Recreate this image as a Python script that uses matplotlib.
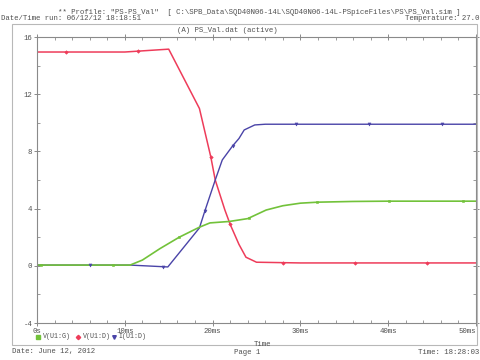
import numpy as np
import matplotlib
matplotlib.use("Agg")
import matplotlib.pyplot as plt
from matplotlib.lines import Line2D
from matplotlib.patches import Rectangle
from matplotlib.ticker import MultipleLocator, FixedLocator

# ---- data (time in ms) ----
t_vd = [0, 10, 15, 18.5, 19.8, 20.3, 21.4, 22.0, 23.0, 23.8, 25, 30, 40, 50]
vd = [14.95, 14.95, 15.15, 11.0, 7.6, 6.0, 3.9, 2.9, 1.5, 0.6, 0.25, 0.2, 0.2, 0.2]

t_id = [0, 10.6, 14.9, 18.5, 19.1, 20.3, 21.1, 22.3, 23.0, 23.6, 24.8, 26, 50]
idd = [0.05, 0.05, -0.08, 2.65, 3.8, 6.0, 7.4, 8.4, 8.9, 9.5, 9.85, 9.9, 9.9]

t_vg = [0, 10.6, 12, 14, 16.2, 18.5, 19.7, 21.9, 24, 26.1, 28, 30, 32, 36, 40, 50]
vg = [0.05, 0.05, 0.4, 1.2, 2.0, 2.7, 3.0, 3.1, 3.3, 3.9, 4.2, 4.38, 4.45, 4.5, 4.52, 4.52]

mk_vd = [3.3, 11.5, 19.8, 22.0, 28.0, 36.2, 44.4]
mk_id = [6.0, 14.3, 19.1, 22.3, 29.5, 37.8, 46.1]
mk_vg = [0.5, 8.7, 16.2, 24.2, 31.9, 40.1, 48.5]

x_ticks = [0, 10, 20, 30, 40, 50]
x_labels = ["0s", "10ms", "20ms", "30ms", "40ms", "50ms"]
y_ticks = [-4, 0, 4, 8, 12, 16]
y_labels = ["-4", "0", "4", "8", "12", "16"]

RED = "#ee3c5a"
BLUE = "#4a44a8"
GREEN = "#72c23a"
TXT = "#505050"
AX = "#8a8a8a"
MONO = "Liberation Mono"
FS = 5.3
FSL = 4.8

W, H = 480, 360
fig = plt.figure(figsize=(4.8, 3.6), dpi=100)
fig.patch.set_facecolor("white")

def fx(px):
    return px / W

def fy(py):
    return 1 - py / H

# outer frame
fig.patches.append(Rectangle((fx(12), fy(345)), fx(477) - fx(12), fy(24) - fy(345),
                             transform=fig.transFigure, fill=False, ec="#b8b8b8", lw=0.8))

ax = fig.add_axes([fx(37), fy(323), fx(476) - fx(37), fy(37) - fy(323)])
ax.set_xlim(0, 50)
ax.set_ylim(-4, 16)

ax.plot(t_vd, vd, color=RED, lw=1.1)
ax.plot(t_id, idd, color=BLUE, lw=1.0)
ax.plot(t_vg, vg, color=GREEN, lw=1.2)

ax.plot(mk_vd, np.interp(mk_vd, t_vd, vd), ls="none", marker="D", ms=1.8, mew=0.4, color=RED)
ax.plot(mk_id, np.interp(mk_id, t_id, idd), ls="none", marker="v", ms=2.2, mew=0.4, color=BLUE)
ax.plot(mk_vg, np.interp(mk_vg, t_vg, vg), ls="none", marker="s", ms=1.8, mew=0.4, color=GREEN)

for s in ax.spines.values():
    s.set_color(AX)
    s.set_linewidth(0.8)

ax.xaxis.set_major_locator(FixedLocator(x_ticks))
ax.xaxis.set_minor_locator(MultipleLocator(2))
ax.yaxis.set_major_locator(FixedLocator(y_ticks))
ax.yaxis.set_minor_locator(MultipleLocator(2))
ax.set_xticklabels(x_labels)
ax.set_yticklabels(y_labels)
ax.tick_params(which="major", direction="inout", length=4, width=0.7, color=AX,
               top=True, right=True, labelsize=FS, labelcolor=TXT, pad=1.5)
ax.tick_params(which="minor", direction="in", length=2, width=0.6, color=AX,
               top=True, right=True)
for lab in ax.get_xticklabels() + ax.get_yticklabels():
    lab.set_fontfamily(MONO)
xl = ax.get_xticklabels()
xl[-1].set_horizontalalignment("right")

# header texts
fig.text(fx(58), fy(12), '** Profile: "PS-PS_Val"  [ C:\\SPB_Data\\SQD40N06-14L\\SQD40N06-14L-PSpiceFiles\\PS\\PS_Val.sim ]',
         fontsize=FS, family=MONO, color=TXT, va="center", ha="left")
fig.text(fx(1), fy(19), "Date/Time run: 06/12/12 18:18:51", fontsize=FS, family=MONO,
         color=TXT, va="center", ha="left")
fig.text(fx(479), fy(19), "Temperature: 27.0", fontsize=FS, family=MONO,
         color=TXT, va="center", ha="right")
fig.text(fx(227), fy(30), "(A) PS_Val.dat (active)", fontsize=FS, family=MONO,
         color=TXT, va="center", ha="center")

# legend row
ly = fy(337)
fig.add_artist(Line2D([fx(38)], [ly], marker="s", ms=2.4, color=GREEN, ls="none"))
fig.text(fx(43), ly, "V(U1:G)", fontsize=FSL, family=MONO, color=TXT, va="center", ha="left")
fig.add_artist(Line2D([fx(78)], [ly], marker="D", ms=2.2, color=RED, ls="none"))
fig.text(fx(83), ly, "V(U1:D)", fontsize=FSL, family=MONO, color=TXT, va="center", ha="left")
fig.add_artist(Line2D([fx(114)], [ly], marker="v", ms=2.6, color=BLUE, ls="none"))
fig.text(fx(118), ly, "I(U1:D)", fontsize=FSL, family=MONO, color=TXT, va="center", ha="left")

fig.text(fx(262), fy(344), "Time", fontsize=FS, family=MONO, color=TXT, va="center", ha="center")

# footer
fig.text(fx(12), fy(352), "Date: June 12, 2012", fontsize=FS, family=MONO, color=TXT,
         va="center", ha="left")
fig.text(fx(247), fy(352), "Page 1", fontsize=FS, family=MONO, color=TXT,
         va="center", ha="center")
fig.text(fx(479), fy(352), "Time: 18:28:03", fontsize=FS, family=MONO, color=TXT,
         va="center", ha="right")

fig.savefig("out.png", dpi=100, facecolor="white")
